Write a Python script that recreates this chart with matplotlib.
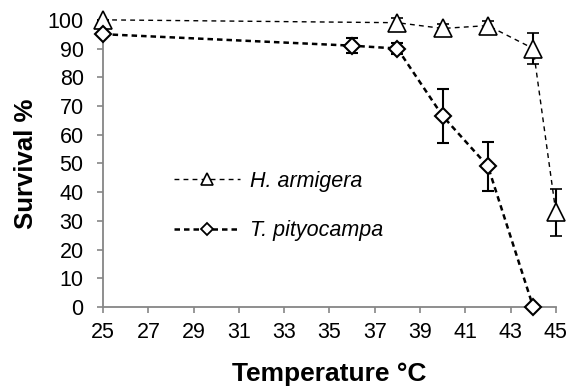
import matplotlib
matplotlib.use("Agg")
import matplotlib.pyplot as plt
from matplotlib.lines import Line2D

plt.rcParams['font.family'] = ['Liberation Sans', 'DejaVu Sans']

# H. armigera
ha_temp = [25, 38, 40, 42, 44, 45]
ha_surv = [100, 99, 97, 98, 90, 33]
ha_err = [0, 1.5, 1.5, 1.5, 5.5, 8.2]

# T. pityocampa
tp_temp = [25, 36, 38, 40, 42, 44]
tp_surv = [95, 91, 90, 66.5, 49, 0]
tp_err = [0, 2.5, 2, 9.3, 8.6, 0]

xticks = [25, 27, 29, 31, 33, 35, 37, 39, 41, 43, 45]
yticks = list(range(0, 101, 10))

fig = plt.figure(figsize=(5.76, 3.89), dpi=100)
ax = fig.add_axes([0.179, 0.211, 0.786, 0.738])

ha_ls = (0, (3.5, 3))
tp_ls = (0, (2.2, 1.6))

ax.errorbar(ha_temp, ha_surv, yerr=ha_err, color='black', ls=ha_ls, lw=1.0,
            marker='^', ms=13, mfc='white', mec='black', mew=1.2,
            ecolor='black', elinewidth=1.5, capsize=4.3, capthick=1.5,
            clip_on=False, zorder=3)
ax.errorbar(tp_temp, tp_surv, yerr=tp_err, color='black', ls=tp_ls, lw=1.8,
            marker='D', ms=8.5, mfc='white', mec='black', mew=1.5,
            ecolor='black', elinewidth=1.5, capsize=4.3, capthick=1.5,
            clip_on=False, zorder=3)

ax.set_xlim(25, 45)
ax.set_ylim(0, 100)
ax.set_xticks(xticks)
ax.set_yticks(yticks)

for s in ['top', 'right']:
    ax.spines[s].set_visible(False)
for s in ['left', 'bottom']:
    ax.spines[s].set_color('#868686')
    ax.spines[s].set_linewidth(1.3)
ax.tick_params(axis='both', direction='out', length=4, width=1.2, color='#868686',
               labelsize=15.5)
ax.tick_params(axis='x', pad=6.5)
ax.tick_params(axis='y', pad=10)

ax.set_xlabel('Temperature °C', fontsize=19, fontweight='bold', labelpad=14)
ax.set_ylabel('Survival %', fontsize=18.5, fontweight='bold', labelpad=7)

handles = [
    Line2D([], [], color='black', ls=ha_ls, lw=1.0, marker='^', ms=8,
           mfc='white', mec='black', mew=1.2),
    Line2D([], [], color='black', ls=tp_ls, lw=1.8, marker='D', ms=6.5,
           mfc='white', mec='black', mew=1.3),
]
ax.legend(handles, ['H. armigera', 'T. pityocampa'], loc='center left',
          bbox_to_anchor=(0.113, 0.352), frameon=False,
          prop={'style': 'italic', 'size': 15.5}, handlelength=3.1,
          labelspacing=1.33, handletextpad=0.45)

fig.savefig('out.png', dpi=100)
